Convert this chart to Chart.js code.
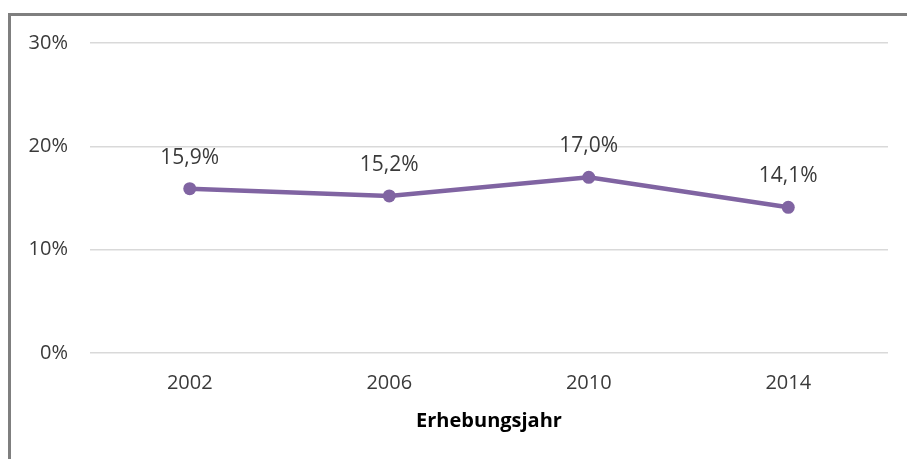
<!DOCTYPE html>
<html>
<head>
<meta charset="utf-8">
<script src="https://cdn.jsdelivr.net/npm/chart.js@4/dist/chart.umd.min.js"></script>
<style>
html,body{margin:0;padding:0;background:#fff;overflow:hidden}
#wrap{position:absolute;left:0;top:0;width:907px;height:459px}
</style>
</head>
<body>
<div id="wrap"><canvas id="c" width="907" height="459"></canvas></div>
<script>
const categories = ['2002', '2006', '2010', '2014'];
const values = [15.9, 15.2, 17.0, 14.1];
const yTicks = [0, 10, 20, 30];
const axisTitle = 'Erhebungsjahr';

const FONT = '"Open Sans", "DejaVu Sans", sans-serif';
const TEXT = '#3a3a3a';
const PURPLE = '#8064a2';

const frame = {
  id: 'frame',
  beforeDraw(chart) {
    const ctx = chart.ctx;
    ctx.save();
    ctx.fillStyle = '#fff';
    ctx.fillRect(0, 0, chart.width, chart.height);
    ctx.strokeStyle = '#7f7f7f';
    ctx.lineWidth = 3;
    ctx.strokeRect(9.5, 14.5, chart.width + 20, chart.height + 20);
    ctx.restore();
  }
};

const labels = {
  id: 'labels',
  afterDatasetsDraw(chart) {
    const ctx = chart.ctx;
    const meta = chart.getDatasetMeta(0);
    ctx.save();
    ctx.font = '21px ' + FONT;
    ctx.fillStyle = TEXT;
    ctx.textAlign = 'center';
    ctx.textBaseline = 'middle';
    meta.data.forEach((pt, i) => {
      const v = values[i].toFixed(1).replace('.', ',') + '%';
      ctx.fillText(v, pt.x, pt.y - 31);
    });
    ctx.restore();
  }
};

new Chart(document.getElementById('c'), {
  type: 'line',
  data: {
    labels: categories,
    datasets: [{
      data: values,
      borderColor: PURPLE,
      backgroundColor: PURPLE,
      borderWidth: 4.5,
      pointRadius: 6.5,
      pointHoverRadius: 6.5,
      pointBorderWidth: 0,
      pointBackgroundColor: PURPLE,
      tension: 0
    }]
  },
  options: {
    responsive: false,
    animation: false,
    events: [],
    layout: { padding: { left: 0, right: 19, top: 43, bottom: 0 } },
    plugins: { legend: { display: false }, tooltip: { enabled: false } },
    scales: {
      x: {
        offset: true,
        grid: { display: false, drawTicks: false },
        border: { display: false },
        ticks: { color: TEXT, font: { family: FONT, size: 20 }, padding: 18, maxRotation: 0 },
        title: { display: true, text: axisTitle, color: '#000', font: { family: FONT, size: 20, weight: 'bold' }, padding: { top: 0, bottom: 26 } },
        afterFit(s) { s.height = 106; }
      },
      y: {
        min: 0, max: 30,
        afterBuildTicks(s) { s.ticks = yTicks.map(v => ({ value: v })); },
        grid: { color: '#d9d9d9', lineWidth: 1.5, drawTicks: false },
        border: { display: false },
        ticks: { color: TEXT, font: { family: FONT, size: 20 }, padding: 22, callback: v => v + '%' },
        afterFit(s) { s.width = 90; }
      }
    }
  },
  plugins: [frame, labels]
});
</script>
</body>
</html>
